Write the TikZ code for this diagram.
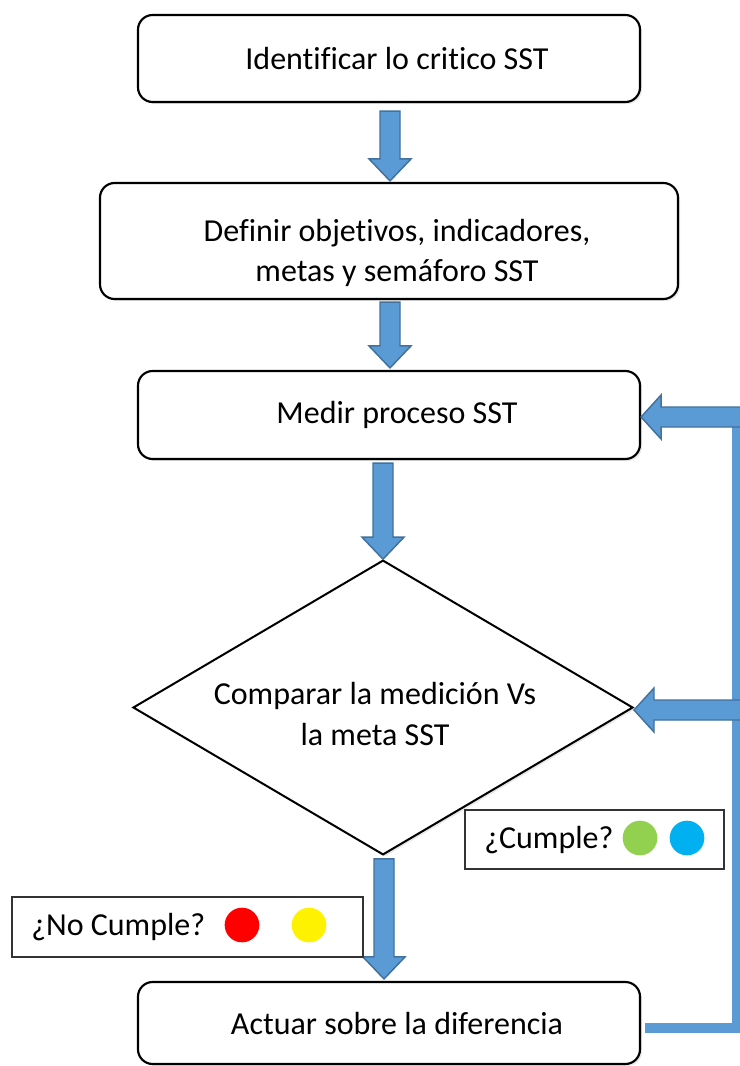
\documentclass[tikz,border=0pt]{standalone}
\usepackage{fontspec}
\setmainfont{Carlito}[Ligatures=NoCommon]
\usetikzlibrary{shapes.geometric,calc,shadows}
\definecolor{abl}{HTML}{5B9BD5}
\definecolor{abd}{HTML}{41719C}
\definecolor{cgreen}{HTML}{92D050}
\definecolor{cblue}{HTML}{00B0F0}
\tikzset{
 box/.style={draw, line width=1.6pt, rounded corners=11pt, fill=white,
   drop shadow={opacity=0.18, shadow xshift=1.5pt, shadow yshift=-1.5pt}},
 txt/.style={font=\fontsize{24}{30.5}\selectfont, align=center, inner sep=0pt},
 barrow/.style={fill=abl, draw=abd, line width=1.1pt, line join=miter},
 fbline/.style={draw=abl, line width=7pt},
 tag/.style={draw=black!80, line width=1pt, fill=white, inner sep=0pt},
 dot/.style={circle, inner sep=0pt, minimum size=26pt}
}
\newcommand\blockv[2]{\filldraw[barrow] let \p1=(#1), \p2=(#2) in
 (\x1-7.5pt,\y1) -- (\x1+7.5pt,\y1) -- (\x1+7.5pt,\y2+16.5pt) -- (\x1+15.75pt,\y2+16.5pt)
 -- (\x1,\y2) -- (\x1-15.75pt,\y2+16.5pt) -- (\x1-7.5pt,\y2+16.5pt) -- cycle;}
\newcommand\blockh[2]{\filldraw[barrow] let \p1=(#1), \p2=(#2) in
 (\x1,\y2+7.5pt) -- (\x2+15pt,\y2+7.5pt) -- (\x2+15pt,\y2+16.5pt) -- (\x2,\y2)
 -- (\x2+15pt,\y2-16.5pt) -- (\x2+15pt,\y2-7.5pt) -- (\x1,\y2-7.5pt) -- cycle;}
\begin{document}
\begin{tikzpicture}[x=0.75pt,y=-0.75pt]
\useasboundingbox (0,0) rectangle (739,1066);
\fill[white] (0,0) rectangle (739,1066);

\node[box, minimum width=376.5pt, minimum height=65.25pt,
  label={[txt, xshift=6pt]center:Identificar lo critico SST}] (b1) at (389,58.5) {};
\node[box, minimum width=433.5pt, minimum height=87pt,
  label={[txt, xshift=6pt, yshift=-9pt]center:Definir objetivos, indicadores,\\metas y semáforo SST}] (b2) at (389,241) {};
\node[box, minimum width=376.5pt, minimum height=66pt,
  label={[txt, xshift=6pt]center:Medir proceso SST}] (b3) at (389,415) {};
\node[draw, line width=1.5pt, diamond, fill=white, minimum width=375pt, minimum height=221pt, inner sep=0pt,
  drop shadow={opacity=0.18, shadow xshift=1.5pt, shadow yshift=-1.5pt},
  label={[txt, xshift=-6pt, yshift=-5pt]center:Comparar la medición Vs\\la meta SST}] (dia) at (383,707.5) {};
\node[box, minimum width=376.5pt, minimum height=61.5pt,
  label={[txt, xshift=6pt]center:Actuar sobre la diferencia}] (b5) at (389,1023) {};

% down arrows
\coordinate (a1s) at ($(b1.south)+(1,8)$);
\coordinate (a1e) at ($(b2.north)+(1,-1)$);
\blockv{a1s}{a1e}
\coordinate (a2s) at ($(b2.south)+(1,2)$);
\coordinate (a2e) at ($(b3.north)+(1,-2)$);
\blockv{a2s}{a2e}
\coordinate (a3s) at ($(b3.south)+(-6,3)$);
\blockv{a3s}{dia.north}
\coordinate (a4s) at ($(dia.south)+(1,3)$);
\coordinate (a4e) at ($(b5.north)+(-5,-2)$);
\blockv{a4s}{a4e}

% feedback
\coordinate (fb) at (737,1028);
\coordinate (fbtop) at (737,420);
\draw[fbline] ($(b5.east)+(4,5)$) -- (fb) -- (fbtop);
\coordinate (r1) at (741,417);
\coordinate (r2) at (741,710);
\coordinate (t1) at ($(b3.east)+(0,2)$);
\coordinate (t2) at ($(dia.east)+(0,2.5)$);
\blockh{r1}{t1}
\blockh{r2}{t2}

% tags
\node[tag, minimum width=194.25pt, minimum height=44.25pt] (cum) at (594.5,839.5) {};
\node[txt, anchor=west] (cumt) at (484,840) {¿Cumple?};
\node[dot, fill=cgreen] (g) at (640,838) {};
\node[dot, fill=cblue] (bl) at (687,838) {};

\node[tag, minimum width=263.25pt, minimum height=45pt] (nc) at (187.5,927) {};
\node[txt, anchor=west] (nct) at (31,927) {¿No Cumple?};
\node[dot, fill=red] (r) at (242,925) {};
\node[dot, fill=yellow] (y) at (309,925) {};
\end{tikzpicture}
\end{document}
